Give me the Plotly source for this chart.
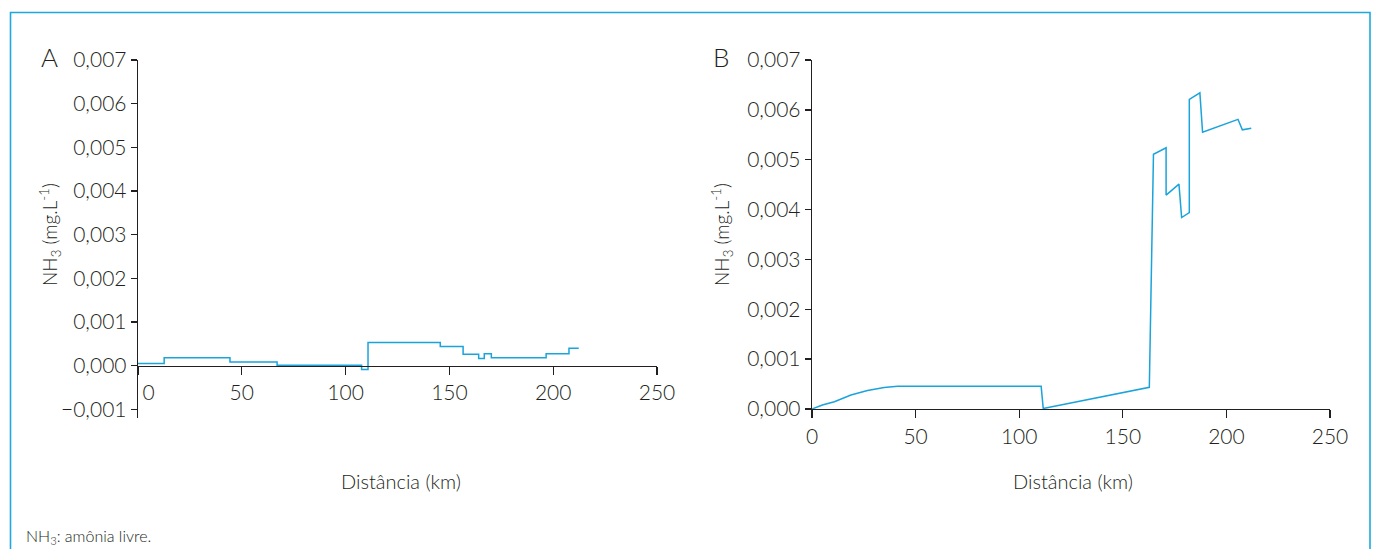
import plotly.graph_objects as go

# ---------- data ----------
# Panel A (step profile)
a_dist = [0, 12.6, 44.3, 67, 107.7, 110.8, 145.6, 156.6, 164.1, 166.8, 170.2, 196.6, 207.6, 212.3]
a_nh3 = [0.00005, 0.00018, 0.00008, 0.00001, -0.00009, 0.00053, 0.00044, 0.00026, 0.00016,
         0.00027, 0.00018, 0.00027, 0.0004, 0.0004]

# Panel B
b_dist = [0, 5, 10.8, 18.8, 26.8, 34.8, 41.3, 110.6, 111.6, 162.8, 164.8, 170.9, 170.9,
          177.1, 178.4, 182.1, 182.1, 187.2, 188.5, 205.6, 207.7, 212]
b_nh3 = [0, 0.00008, 0.000147, 0.00028, 0.00037, 0.00043, 0.000454, 0.000454, 0.00001,
         0.000435, 0.00511, 0.00524, 0.00429, 0.00451, 0.00384, 0.00394, 0.00621, 0.00634,
         0.00555, 0.00581, 0.0056, 0.00563]

x_ticks = [0, 50, 100, 150, 200, 250]
x_ticktext_a = ["\u2002\u20020", "50", "100", "150", "200", "250"]
x_ticktext_b = ["0", "50", "100", "150", "200", "250"]
y_ticks_a = [-0.001, 0, 0.001, 0.002, 0.003, 0.004, 0.005, 0.006, 0.007]
y_ticks_b = [0, 0.001, 0.002, 0.003, 0.004, 0.005, 0.006, 0.007]

x_title = "Distância (km)"
y_title = "NH<sub>3</sub> (mg.L<sup>-1</sup>)"
footnote = "NH<sub>3</sub>: amônia livre."

# ---------- styling ----------
W, H = 1373, 549
LINE = "#1ba3db"
INK = "#231f20"
FONT = "Lato"
WEIGHT = 300


def px(x):
    return x / W


def py(y):
    return 1 - y / H


fig = go.Figure()
fig.add_trace(go.Scatter(x=a_dist, y=a_nh3, mode="lines", line=dict(color=LINE, width=1.5, shape="hv"),
                         xaxis="x", yaxis="y", showlegend=False, hoverinfo="skip"))
fig.add_trace(go.Scatter(x=b_dist, y=b_nh3, mode="lines", line=dict(color=LINE, width=1.5),
                         xaxis="x2", yaxis="y2", showlegend=False, hoverinfo="skip"))

axis_common = dict(showline=True, linecolor=INK, linewidth=1.3, showgrid=False, zeroline=False,
                   ticks="outside", tickcolor=INK, tickwidth=1.3, automargin=False,
                   tickfont=dict(family=FONT, size=21, color=INK, weight=WEIGHT), fixedrange=True)

fig.update_layout(
    width=W, height=H, margin=dict(l=0, r=0, t=0, b=0, pad=0, autoexpand=False),
    paper_bgcolor="white", plot_bgcolor="rgba(0,0,0,0)",
    separators=",.",
    font=dict(family=FONT, color=INK, weight=WEIGHT),
    xaxis=dict(axis_common, domain=[px(138), px(657)], range=[0, 250], tickvals=x_ticks,
               ticktext=x_ticktext_a, ticklen=8, anchor="free", position=py(365.6)),
    yaxis=dict(axis_common, domain=[py(418), py(60)], range=[-0.0012, 0.007], tickvals=y_ticks_a,
               tickformat=".3f", ticklen=6, anchor="x"),
    xaxis2=dict(axis_common, domain=[px(812), px(1330)], range=[0, 250], tickvals=x_ticks,
                ticktext=x_ticktext_b, ticklen=8, anchor="y2"),
    yaxis2=dict(axis_common, domain=[py(409), py(60)], range=[0, 0.007], tickvals=y_ticks_b,
                tickformat=".3f", ticklen=6, anchor="x2"),
)

ann = [
    dict(text=x_title, x=px(401), y=py(481), font=dict(size=20)),
    dict(text=x_title, x=px(1073), y=py(481), font=dict(size=20)),
    dict(text=y_title, x=px(50), y=py(235), textangle=-90, font=dict(size=19)),
    dict(text=y_title, x=px(722), y=py(235), textangle=-90, font=dict(size=19)),
    dict(text="A", x=px(49), y=py(57), font=dict(size=26)),
    dict(text="B", x=px(721), y=py(57), font=dict(size=26)),
    dict(text=footnote, x=px(24), y=py(536), xanchor="left", font=dict(size=16)),
]
for a in ann:
    a.setdefault("xanchor", "center")
    a.update(xref="paper", yref="paper", showarrow=False, yanchor="middle")
    a["font"].update(family=FONT, color=INK, weight=WEIGHT)
    fig.add_annotation(**a)

fig.add_shape(type="rect", xref="paper", yref="paper", x0=px(10.5), x1=px(1370), y0=py(560), y1=py(12.5),
              line=dict(color="#1fa8e0", width=1.6), fillcolor="rgba(0,0,0,0)", layer="above")

fig.write_html("out.html", config={"displayModeBar": False, "staticPlot": True},
               post_script="document.body.style.margin='0px';document.body.style.overflow='hidden';")
